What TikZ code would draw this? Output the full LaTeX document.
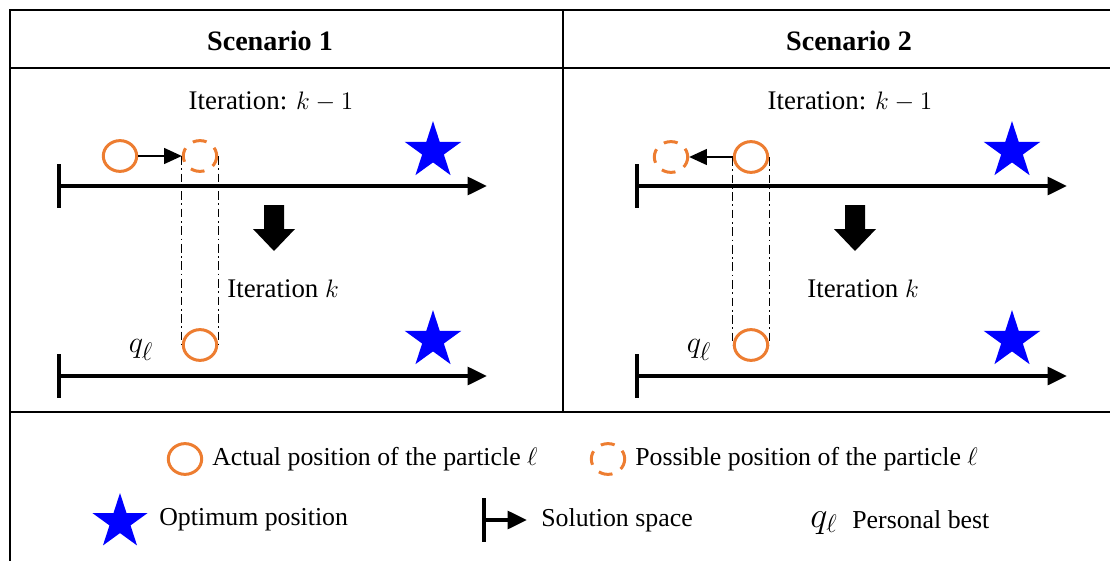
\documentclass[tikz,border=0pt]{standalone}
\usepackage{fontspec}
\setmainfont{Liberation Serif}
\definecolor{partorange}{HTML}{ED7D31}
\definecolor{optblue}{HTML}{0000FF}
\usetikzlibrary{arrows.meta, shapes.geometric, positioning, calc}
\tikzset{
  frame/.style={line width=1.2pt},
  head/.style={font=\fontsize{16}{19}\selectfont\bfseries, inner sep=0pt},
  txt/.style={font=\fontsize{15.3}{18}\selectfont, inner sep=0pt},
  qlbl/.style={font=\fontsize{19}{21}\selectfont, inner sep=0pt},
  leg/.style={font=\fontsize{14.7}{18}\selectfont, inner sep=0pt, anchor=west},
  actual/.style={draw=partorange, ellipse, line width=1.7pt,
    minimum width=19pt, minimum height=17.5pt, inner sep=0pt},
  possible/.style={actual, dash pattern=on 8pt off 5.5pt, dash phase=3pt},
  optstar/.style={star, star points=5, star point ratio=2.618,
    fill=optblue, minimum size=34pt, inner sep=0pt},
  axis/.style={{Bar[width=25pt]}-{Triangle[length=11pt,width=10pt]},
    line width=2.3pt},
  move/.style={-{Triangle[length=10pt,width=9pt]}, line width=0.8pt},
  guide/.style={line width=0.7pt, dash pattern=on 5pt off 2pt on 1pt off 2pt},
  bigdown/.pic={
    \fill (-10,0) -- (10,0) -- (10,24) -- (21,24) -- (0,46)
      -- (-21,24) -- (-10,24) -- cycle;
  },
}

\begin{document}
\begin{tikzpicture}[x=0.02cm, y=-0.02cm]
  \useasboundingbox (0,0) rectangle (1110,561);

  % table lines
  \draw[frame] (10,561) -- (10,10) -- (1110,10);
  \draw[frame, line width=1.6pt] (10,68) -- (1110,68);
  \draw[frame] (10,412) -- (1110,412);
  \draw[frame] (563,10) -- (563,412);

  \node[head] (hd1) at (270,41) {Scenario 1};
  \node[head] (hd2) at (849,41) {Scenario 2};

  % scenario 1
  \node[txt] (it1a) at (271,102) {Iteration: $k-1$};
  \coordinate (ax1s) at (57,186);
  \coordinate (ax1e) at (487,186);
  \draw[axis] (ax1s) -- (ax1e);
  \node[optstar] (st1a) at (433,151) {};
  \node[actual] (ac1) at (120,156) {};
  \node[possible] (po1) at (200,156) {};
  \draw[move] (ac1) -- (po1);
  \pic at (274,205) {bigdown};
  \node[txt, anchor=west] (it1b) at (227,289) {Iteration $k$};
  \coordinate (bx1s) at (57,376);
  \coordinate (bx1e) at (487,376);
  \draw[axis] (bx1s) -- (bx1e);
  \node[optstar] (st1b) at (433,340) {};
  \node[actual] (bc1) at (200,345) {};
  \node[qlbl] (q1) at (141,350) {$q_\ell$};
  \draw[guide] (po1.west) -- (bc1.west);
  \draw[guide] (po1.east) -- (bc1.east);

  % scenario 2
  \node[txt] (it2a) at (850,102) {Iteration: $k-1$};
  \coordinate (ax2s) at (635,186);
  \coordinate (ax2e) at (1067,186);
  \draw[axis] (ax2s) -- (ax2e);
  \node[optstar] (st2a) at (1012,151) {};
  \node[actual] (ac2) at (751,157) {};
  \node[possible] (po2) at (671,157) {};
  \draw[move] (ac2) -- (po2);
  \pic at (855,205) {bigdown};
  \node[txt, anchor=west] (it2b) at (807,289) {Iteration $k$};
  \coordinate (bx2s) at (635,376);
  \coordinate (bx2e) at (1067,376);
  \draw[axis] (bx2s) -- (bx2e);
  \node[optstar] (st2b) at (1012,340) {};
  \node[actual] (bc2) at (751,345) {};
  \node[qlbl] (q2) at (699,350) {$q_\ell$};
  \draw[guide] (ac2.west) -- (bc2.west);
  \draw[guide] (ac2.east) -- (bc2.east);

  % legend
  \node[actual] (lgac) at (185,459) {};
  \node[leg, right=5pt of lgac] (lgact) {Actual position of the particle $\ell$};
  \node[possible] (lgpo) at (608,459) {};
  \node[leg, right=5pt of lgpo] (lgpot) {Possible position of the particle $\ell$};
  \node[optstar, minimum size=33pt] (lgst) at (120,522) {};
  \node[leg] (lgstt) at (159,520) {Optimum position};
  \coordinate (lgaxs) at (482,520);
  \coordinate (lgaxe) at (527,520);
  \draw[axis] (lgaxs) -- (lgaxe);
  \node[leg] (lgaxt) at (541,520) {Solution space};
  \node[qlbl, font=\fontsize{21}{23}\selectfont] (lgq) at (824,523) {$q_\ell$};
  \node[leg] (lgqt) at (852,520) {Personal best};
\end{tikzpicture}
\end{document}
